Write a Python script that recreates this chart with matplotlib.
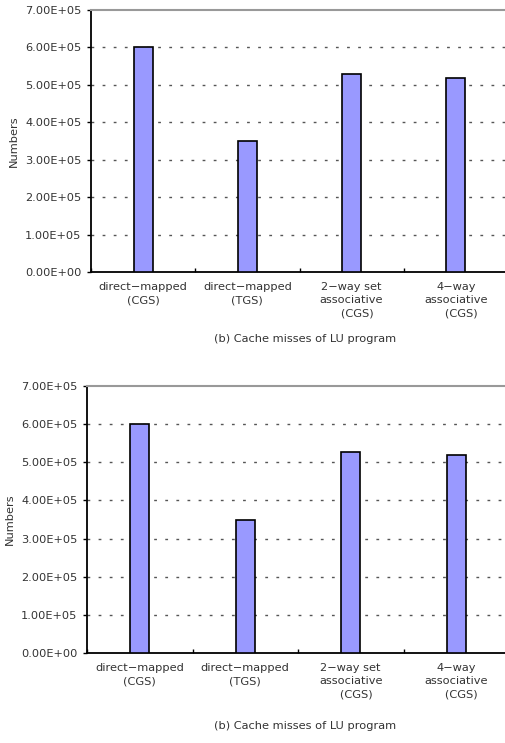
import matplotlib
matplotlib.use("Agg")
import matplotlib.pyplot as plt
import numpy as np

categories = ["direct\u2212mapped\n(CGS)", "direct\u2212mapped\n(TGS)",
              "2\u2212way set\nassociative\n   (CGS)", "4\u2212way\nassociative\n   (CGS)"]
misses = [6.00e5, 3.50e5, 5.28e5, 5.18e5]
yticks = [0, 1e5, 2e5, 3e5, 4e5, 5e5, 6e5, 7e5]
ytick_labels = ["0.00E+00", "1.00E+05", "2.00E+05", "3.00E+05",
                "4.00E+05", "5.00E+05", "6.00E+05", "7.00E+05"]
caption = "(b) Cache misses of LU program"

W, H = 505, 743
fig = plt.figure(figsize=(W / 100, H / 100), dpi=100)
plt.rcParams['font.family'] = ['DejaVu Sans']
FS = 8.2
TC = "#333333"

panels = [
    # left, right, top, bottom (pixels), caption y
    (91, 508, 10, 272, 339),
    (87, 509, 386, 653, 726),
]

for (l, r, t, b, cy) in panels:
    ax = fig.add_axes([l / W, 1 - b / H, (r - l) / W, (b - t) / H])
    x = np.arange(len(categories)) + 0.5
    ax.bar(x, misses, width=0.18, color="#9999ff", edgecolor="black",
           linewidth=1.2, zorder=3)
    ax.set_xlim(0, len(categories))
    ax.set_ylim(0, 7e5)
    ax.set_yticks(yticks)
    ax.set_yticklabels(ytick_labels, fontsize=FS, color=TC)
    ax.set_xticks(np.arange(len(categories) + 1))
    ax.set_xticklabels([])
    ax.set_xticks(x, minor=True)
    ax.set_xticklabels(categories, minor=True, fontsize=FS, color=TC,
                       linespacing=1.45)
    ax.tick_params(axis='x', which='minor', length=0, pad=7)
    ax.tick_params(axis='x', which='major', direction='in', length=3, width=1)
    ax.tick_params(axis='y', direction='out', length=3, width=1, pad=4)
    for yv in yticks[1:-1]:
        ax.axhline(yv, color="#555555", linestyle=(0, (2, 6)),
                   linewidth=1.0, zorder=1)
    ax.spines['top'].set_color("#999999")
    ax.spines['top'].set_linewidth(1.5)
    ax.spines['right'].set_visible(False)
    ax.spines['left'].set_linewidth(1.3)
    ax.spines['bottom'].set_linewidth(1.3)
    ax.set_ylabel("Numbers", fontsize=FS, labelpad=4, color=TC)
    fig.text(305 / W, 1 - cy / H, caption, fontsize=FS, ha='center',
             va='center', color=TC)

fig.savefig("out.png", dpi=100)
